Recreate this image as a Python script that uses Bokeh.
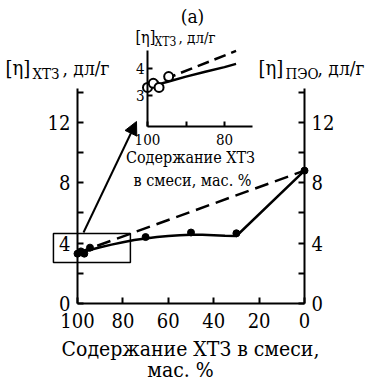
from bokeh.plotting import figure
from bokeh.models import Range1d, LinearAxis, FixedTicker, Label, Arrow, NormalHead
from bokeh.embed import file_html
from bokeh.resources import INLINE

# ---------------- data ----------------
content = [100, 98.5, 97, 94.5, 70, 50, 30, 0]          # wt.% of XTZ in blend
eta = [3.3, 3.45, 3.3, 3.7, 4.4, 4.7, 4.65, 8.8]          # intrinsic viscosity, dl/g

curve_x = [100, 97.5, 95, 90, 85, 80, 75, 70, 65, 60, 55, 50, 45, 40, 35, 30, 0]
curve_y = [3.3, 3.42, 3.53, 3.72, 3.9, 4.05, 4.2, 4.3, 4.4, 4.47, 4.52, 4.55, 4.55, 4.52, 4.48, 4.47, 8.8]

additive_x = [100, 0]
additive_y = [3.35, 8.8]

inset_x = content[:4]
inset_y = eta[:4]
inset_curve_x = [100, 97, 94.5, 90, 85, 80, 77]
inset_curve_y = [3.3, 3.42, 3.52, 3.7, 3.88, 4.05, 4.17]
inset_add_x = [100, 77]
inset_add_y = [3.35, 4.65]

main_xticks = [100, 80, 60, 40, 20, 0]
main_yticks = [0, 4, 8, 12]
main_yminor = [2, 6, 10, 14]
inset_xticks = [100, 90, 80]
inset_yticks = [3, 4]

zoom_box_x = (110.6, 76.7)
zoom_box_y = (2.72, 4.64)

FONT = "DejaVu Serif Condensed"

# pixel -> main data helpers for annotation placement
def mx(px):
    return 100 - (px - 77) / 2.27

def my(py):
    return (303 - py) / 15.1

p = figure(width=382, height=385,
           x_range=Range1d(mx(0), mx(382)), y_range=Range1d(my(385), my(0)),
           output_backend="svg", toolbar_location=None, min_border=0,
           x_axis_type=None, y_axis_type=None)
p.outline_line_color = None
p.background_fill_color = "white"
p.border_fill_color = "white"

# inset ranges (inset: 100 -> px147, 3.85 px/unit ; 3 -> py95, 27 px/unit)
p.extra_x_ranges = {"ix": Range1d(100 + 147 / 3.85, 100 - 235 / 3.85)}
p.extra_y_ranges = {"iy": Range1d(3 - 290 / 27, 3 + 95 / 27)}


def style_axis(ax, size, tick, standoff):
    ax.axis_line_width = 2
    ax.axis_line_color = "black"
    ax.major_tick_in = tick
    ax.major_tick_out = 0
    ax.minor_tick_in = tick
    ax.minor_tick_out = 0
    ax.major_tick_line_width = 2
    ax.minor_tick_line_width = 2
    ax.major_tick_line_color = "black"
    ax.minor_tick_line_color = "black"
    ax.major_label_text_font = FONT
    ax.major_label_text_font_size = size
    ax.major_label_text_color = "black"
    ax.major_label_standoff = standoff


yl = LinearAxis(fixed_location=100, bounds=(0, 14.25),
                ticker=FixedTicker(ticks=main_yticks, minor_ticks=main_yminor))
style_axis(yl, "20px", 6, 7)
p.add_layout(yl, "left")

yr = LinearAxis(fixed_location=0, bounds=(0, 14.25),
                ticker=FixedTicker(ticks=main_yticks, minor_ticks=main_yminor))
style_axis(yr, "20px", 6, 7)
p.add_layout(yr, "right")

xb = LinearAxis(fixed_location=0, bounds=(0, 100),
                ticker=FixedTicker(ticks=main_xticks))
style_axis(xb, "20px", 6, 9)
p.add_layout(xb, "below")

iya = LinearAxis(x_range_name="ix", y_range_name="iy", fixed_location=100,
                 bounds=(1.85, 4.67), ticker=FixedTicker(ticks=inset_yticks))
style_axis(iya, "15px", 5, 3)
p.add_layout(iya, "left")

ixa = LinearAxis(x_range_name="ix", y_range_name="iy", fixed_location=1.85,
                 bounds=(72.7, 100), ticker=FixedTicker(ticks=inset_xticks),
                 major_label_overrides={90: ""})
style_axis(ixa, "15px", 5, 7)
p.add_layout(ixa, "below")

# zoom rectangle
p.quad(left=[zoom_box_x[0]], right=[zoom_box_x[1]], bottom=[zoom_box_y[0]], top=[zoom_box_y[1]],
       fill_color=None, line_color="black", line_width=1.5)

# main plot
p.line(additive_x, additive_y, line_color="black", line_width=2.5, line_dash="14 7")
p.line(curve_x, curve_y, line_color="black", line_width=2.5)
p.scatter(content, eta, size=7, fill_color="black", line_color="black")

# inset plot
p.line(inset_add_x, inset_add_y, x_range_name="ix", y_range_name="iy",
       line_color="black", line_width=2.5, line_dash="12 6")
p.line(inset_curve_x, inset_curve_y, x_range_name="ix", y_range_name="iy",
       line_color="black", line_width=2.5)
p.scatter(inset_x, inset_y, x_range_name="ix", y_range_name="iy", size=9,
          fill_color="white", line_color="black", line_width=2)

# arrow from zoom box to inset
p.add_layout(Arrow(end=NormalHead(size=13, fill_color="black", line_color="black"),
                   x_start=mx(83), y_start=my(232), x_end=mx(136), y_end=my(121),
                   line_width=2, line_color="black"))


def txt(px, py, text, size, align="left"):
    p.add_layout(Label(x=mx(px), y=my(py), text=text, text_font=FONT,
                       text_font_size=size, text_align=align,
                       text_baseline="middle", text_color="black"))


txt(192, 15, "(a)", "19px", "center")

# inset y label
txt(135, 37, "[η]", "16px")
txt(154, 41, "ХТЗ", "12px")
txt(178, 37, ", дл/г", "15px")

# main left y label
txt(5, 67, "[η]", "20px")
txt(32, 73, "ХТЗ", "15px")
txt(62, 67, ", дл/г", "19px")

# main right y label
txt(258, 67, "[η]", "20px")
txt(285, 73, "ПЭО", "15px")
txt(317, 67, ", дл/г", "19px")

# inset x label
txt(190, 157, "Содержание ХТЗ", "16px", "center")
txt(192, 180, "в смеси, мас. %", "16px", "center")

# main x label
txt(190, 348, "Содержание ХТЗ в смеси,", "21px", "center")
txt(180, 369, "мас. %", "21px", "center")

open("out.html", "w").write(file_html(p, INLINE))
